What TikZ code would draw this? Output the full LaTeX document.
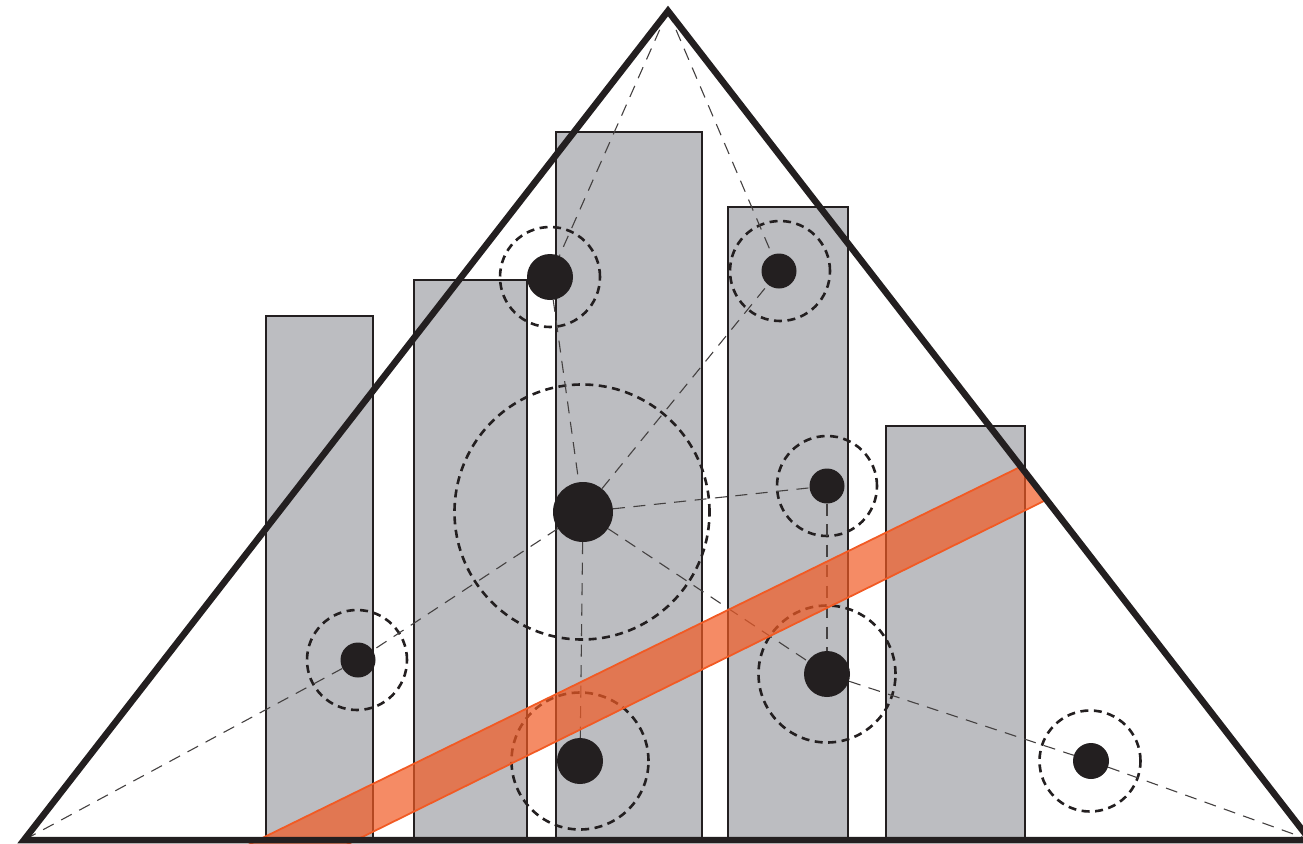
\documentclass[tikz,border=0pt]{standalone}
\usetikzlibrary{calc}
\definecolor{ink}{HTML}{231F20}
\definecolor{barfill}{HTML}{BCBDC1}
\definecolor{bandorange}{HTML}{F15A24}
\tikzset{
  bar/.style={fill=barfill, draw=ink, line width=2.2pt},
  ring/.style={circle, draw=ink, line width=2.6pt, dash pattern=on 8pt off 5.5pt, inner sep=0pt, fill=none},
  dot/.style={circle, fill=ink, draw=none, inner sep=0pt},
  conn/.style={draw=ink!85, line width=1.1pt, dash pattern=on 12pt off 8.5pt},
  tri/.style={draw=ink, line width=6.5pt, line join=miter},
  band/.style={fill=bandorange, fill opacity=0.7, draw=bandorange, line width=1.8pt, line join=miter}
}
\begin{document}
\begin{tikzpicture}[x=1pt,y=-1pt]
\useasboundingbox (0,0) rectangle (1303,843);
% triangle corners
\coordinate (apex) at (668,11);
\coordinate (BL) at (24,840);
\coordinate (BR) at (1310,840);
% bars
\draw[bar] (266,840) rectangle (373,316);
\draw[bar] (414,840) rectangle (527,280);
\draw[bar] (556,840) rectangle (702,132);
\draw[bar] (728,840) rectangle (848,207);
\draw[bar] (886,840) rectangle (1025,426);
% dashed rings
\node[ring, minimum size=100pt] (rA) at (550,277) {};
\node[ring, minimum size=100pt] (rB) at (780,271) {};
\node[ring, minimum size=255pt] (rC) at (582,512) {};
\node[ring, minimum size=100pt] (rD) at (827,486) {};
\node[ring, minimum size=100pt] (rE) at (357,660) {};
\node[ring, minimum size=137pt] (rF) at (827,674) {};
\node[ring, minimum size=137pt] (rG) at (580,761) {};
\node[ring, minimum size=101pt] (rH) at (1090,761) {};
% dots
\node[dot, minimum size=46pt] (A) at (550,277) {};
\node[dot, minimum size=35pt] (B) at (779,271) {};
\node[dot, minimum size=60pt] (C) at (583,512) {};
\node[dot, minimum size=35pt] (D) at (827,486) {};
\node[dot, minimum size=35pt] (E) at (358,660) {};
\node[dot, minimum size=46pt] (F) at (827,674) {};
\node[dot, minimum size=46pt] (G) at (580,761) {};
\node[dot, minimum size=36pt] (H) at (1091,761) {};
% connectors
\draw[conn] (apex) -- (A);
\draw[conn] (apex) -- (B);
\draw[conn] (A) -- (C);
\draw[conn] (C) -- (B);
\draw[conn] (C) -- (D);
\draw[conn] (C) -- (E);
\draw[conn] (E) -- (BL);
\draw[conn] (C) -- (G);
\draw[conn] (C) -- (F);
\draw[conn] (D) -- (F);
\draw[conn] (F) -- (H);
\draw[conn] (H) -- (BR);
% orange band
\draw[band] (248,845) -- (1020,467) -- (1046,500) -- (346,845) -- cycle;
% triangle
\draw[tri] (apex) -- (BR) -- (BL) -- cycle;
\end{tikzpicture}
\end{document}
